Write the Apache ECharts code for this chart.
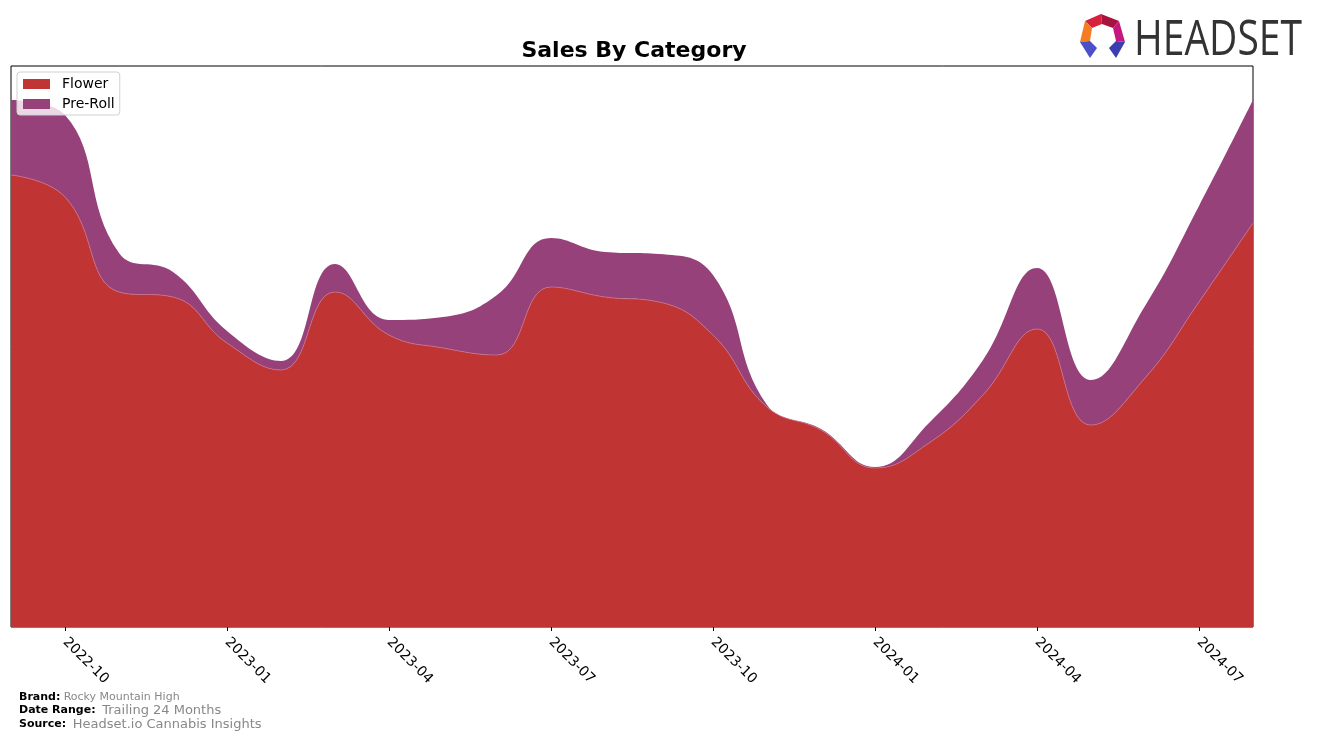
<!DOCTYPE html>
<html>
<head>
<meta charset="utf-8">
<title>Sales By Category</title>
<script src="https://cdn.jsdelivr.net/npm/echarts@6/dist/echarts.min.js"></script>
<style>
  html, body { margin: 0; padding: 0; background: #fff; }
  #chart { width: 1317px; height: 742px; }
</style>
</head>
<body>
<div id="chart"></div>
<script>
  // 月份（类目）
  var months = [
    '2022-09', '2022-10', '2022-11', '2022-12', '2023-01', '2023-02',
    '2023-03', '2023-04', '2023-05', '2023-06', '2023-07', '2023-08',
    '2023-09', '2023-10', '2023-11', '2023-12', '2024-01', '2024-02',
    '2024-03', '2024-04', '2024-05', '2024-06', '2024-07', '2024-08'
  ];
  // 各品类销售额（估读）
  var flowerSales = [
    45200, 43000, 33500, 33000, 28400, 25700,
    33500, 29200, 27900, 27200, 34000, 33000,
    32500, 29200, 22000, 19700, 15900, 18400,
    23200, 29800, 20200, 24900, 32500, 40400
  ];
  var preRollSales = [
    7500, 8200, 3900, 2500, 1200, 900,
    2800, 1500, 3100, 6000, 4900, 4500,
    4800, 6000, 200, 100, 100, 2000,
    3500, 6100, 4500, 7200, 9600, 12300
  ];
  var quarterMonths = ['01', '04', '07', '10'];

  function isQuarter(index) {
    return quarterMonths.indexOf(months[index].slice(5)) !== -1;
  }

  var myChart = echarts.init(document.getElementById('chart'));

  var option = {
    animation: false,
    title: {
      text: 'Sales By Category',
      left: 629,
      textAlign: 'center',
      top: 35,
      textStyle: {
        fontFamily: 'DejaVu Sans',
        fontSize: 22,
        fontWeight: 'bold',
        color: '#000'
      }
    },
    legend: {
      data: ['Flower', 'Pre-Roll'],
      orient: 'vertical',
      left: 17,
      top: 72,
      icon: 'rect',
      itemWidth: 27,
      itemHeight: 10,
      itemGap: 6,
      padding: [5, 5, 4, 6],
      borderColor: '#d0d0d0',
      borderWidth: 1,
      borderRadius: 3,
      backgroundColor: 'rgba(255,255,255,0.8)',
      textStyle: {
        fontFamily: 'DejaVu Sans',
        fontSize: 14,
        color: '#000',
        padding: [0, 0, 0, 7]
      }
    },
    grid: {
      left: 11,
      right: 64,
      top: 66,
      bottom: 115,
      show: true,
      borderColor: '#000',
      borderWidth: 1,
      backgroundColor: 'transparent'
    },
    xAxis: {
      type: 'category',
      data: months,
      boundaryGap: false,
      axisLine: { show: false },
      axisTick: {
        show: true,
        length: 4,
        interval: function (index) { return isQuarter(index); },
        lineStyle: { color: '#000', width: 1 }
      },
      axisLabel: {
        interval: function (index) { return isQuarter(index); },
        rotate: -45,
        margin: 13,
        fontFamily: 'DejaVu Sans',
        fontSize: 14,
        color: '#000'
      },
      splitLine: { show: false }
    },
    yAxis: {
      type: 'value',
      min: 0,
      max: 56100,
      show: false,
      splitLine: { show: false }
    },
    series: [
      {
        name: 'Flower',
        type: 'line',
        stack: 'total',
        smooth: 0.45,
        showSymbol: false,
        data: flowerSales,
        itemStyle: { color: '#c03434' },
        lineStyle: { width: 0.8, color: '#c8708c' },
        areaStyle: { color: '#c03434', opacity: 1 },
        z: 2
      },
      {
        name: 'Pre-Roll',
        type: 'line',
        stack: 'total',
        smooth: 0.45,
        showSymbol: false,
        data: preRollSales,
        itemStyle: { color: '#96417a' },
        lineStyle: { width: 0 },
        areaStyle: { color: '#96417a', opacity: 1 },
        z: 1
      }
    ],
    graphic: [
      // logo 图标
      { type: 'polygon', shape: { points: [[1085, 21], [1101, 14], [1102, 24], [1092, 28]] }, style: { fill: '#d8203c' } },
      { type: 'polygon', shape: { points: [[1101, 14], [1119, 21], [1113, 28], [1102, 24]] }, style: { fill: '#a8123e' } },
      { type: 'polygon', shape: { points: [[1119, 21], [1125, 42], [1116, 41], [1113, 28]] }, style: { fill: '#c4187e' } },
      { type: 'polygon', shape: { points: [[1085, 21], [1092, 28], [1090, 41], [1080, 42]] }, style: { fill: '#f47c22' } },
      { type: 'polygon', shape: { points: [[1080, 42], [1090, 41], [1097, 48], [1090, 58]] }, style: { fill: '#4b4fc8' } },
      { type: 'polygon', shape: { points: [[1125, 42], [1116, 41], [1109, 48], [1116, 58]] }, style: { fill: '#3a3eb0' } },
      {
        type: 'text',
        x: 1134,
        y: 16,
        scaleX: 0.78,
        style: {
          text: 'HEADSET',
          font: '50px "Open Sans"',
          fill: '#333'
        }
      },
      // 页脚信息
      {
        type: 'text',
        left: 19,
        top: 691,
        style: {
          text: '{b|Brand:} {s|Rocky Mountain High}',
          rich: {
            b: { fontFamily: 'DejaVu Sans', fontSize: 11, fontWeight: 'bold', fill: '#000' },
            s: { fontFamily: 'DejaVu Sans', fontSize: 11, fill: '#888' }
          }
        }
      },
      {
        type: 'text',
        left: 19,
        top: 704,
        style: {
          text: '{b|Date Range:}  {s|Trailing 24 Months}',
          rich: {
            b: { fontFamily: 'DejaVu Sans', fontSize: 11, fontWeight: 'bold', fill: '#000' },
            s: { fontFamily: 'DejaVu Sans', fontSize: 13, fill: '#888' }
          }
        }
      },
      {
        type: 'text',
        left: 19,
        top: 718,
        style: {
          text: '{b|Source:}  {s|Headset.io Cannabis Insights}',
          rich: {
            b: { fontFamily: 'DejaVu Sans', fontSize: 11, fontWeight: 'bold', fill: '#000' },
            s: { fontFamily: 'DejaVu Sans', fontSize: 13, fill: '#888' }
          }
        }
      }
    ]
  };

  myChart.setOption(option, true);
</script>
</body>
</html>
